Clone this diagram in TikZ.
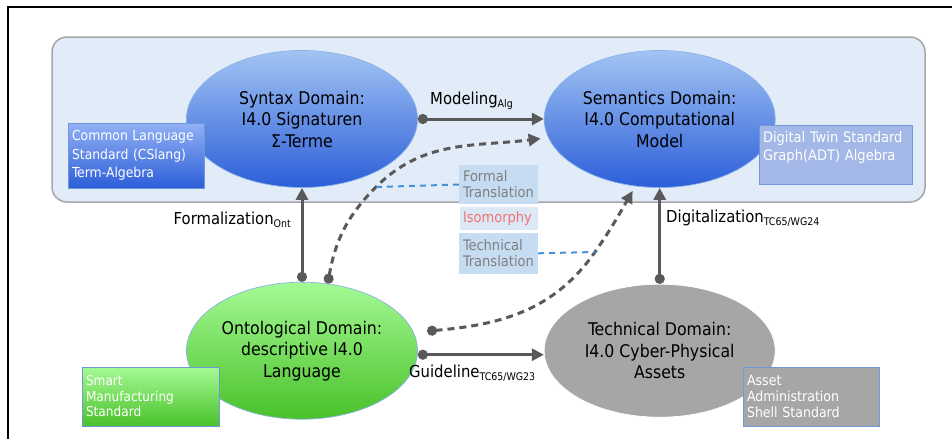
\documentclass[tikz,border=0pt]{standalone}
\usepackage{fontspec}
\setmainfont{DejaVu Sans Condensed}
\usepackage{tikz}
\usetikzlibrary{arrows.meta,positioning,shapes.geometric}

\definecolor{panelfill}{HTML}{E1ECF8}
\definecolor{panelline}{HTML}{A6A6A6}
\definecolor{blueTop}{HTML}{A2C4F3}
\definecolor{blueBot}{HTML}{2C5ED9}
\definecolor{greenTop}{HTML}{A4FA94}
\definecolor{greenBot}{HTML}{4AC12A}
\definecolor{techgrey}{HTML}{A6A6A6}
\definecolor{ellline}{HTML}{8AB2E6}
\definecolor{boxline}{HTML}{7096DB}
\definecolor{twinfill}{HTML}{A3B8E6}
\definecolor{arrowgrey}{HTML}{595959}
\definecolor{trfill}{HTML}{C6DCF2}
\definecolor{isofill}{HTML}{DCE8F5}
\definecolor{labelgrey}{HTML}{7F7F7F}
\definecolor{isored}{HTML}{F07474}
\definecolor{linkblue}{HTML}{4A8FD9}

\newcommand{\lsub}[1]{\raisebox{-2.5pt}{\fontsize{10.5}{12}\selectfont #1}}

\begin{document}
\begin{tikzpicture}[x=1pt, y=-1pt, >={Triangle[length=12pt,width=12pt]}]
\tikzstyle{domainell}=[ellipse, minimum width=231pt, minimum height=137pt, inner sep=0pt, align=center, font=\fontsize{17.5}{21.5}\selectfont, draw=ellline, line width=0.7pt]
\tikzstyle{stdbox}=[rectangle, draw=boxline, line width=0.8pt, text=white, align=left, inner xsep=4pt, inner ysep=0pt]
\tikzstyle{trbox}=[rectangle, fill=trfill, text=labelgrey, align=left, inner xsep=4pt, inner ysep=0pt, minimum width=79pt, text width=71pt, font=\fontsize{14.5}{16}\selectfont]
\tikzstyle{lbl}=[inner sep=0pt, font=\fontsize{16.5}{18}\selectfont]
\tikzstyle{link}=[{Circle[length=10pt]}->, line width=3pt, draw=arrowgrey]
\tikzstyle{dlink}=[{Circle[length=10pt]}->, line width=3pt, draw=arrowgrey, dash pattern=on 7pt off 5pt]
\tikzstyle{blink}=[line width=2pt, draw=linkblue, dash pattern=on 6pt off 5pt]

\useasboundingbox (0,0) rectangle (952,439);
\draw[line width=2pt] (8,439) -- (8,7) -- (952,7);

% panel
\draw[fill=panelfill, draw=panelline, line width=1.5pt, rounded corners=15pt] (52,37) rectangle (925,202);

% domains
\node[domainell, top color=blueTop, bottom color=blueBot] (syn) at (302,119) {Syntax Domain:\\I4.0 Signaturen\\Σ-Terme};
\node[domainell, top color=blueTop, bottom color=blueBot] (sem) [right=126pt of syn] {Semantics Domain:\\I4.0 Computational\\Model};
\node[domainell, top color=greenTop, bottom color=greenBot] (ont) [below=94pt of syn] {Ontological Domain:\\descriptive I4.0\\Language};
\node[domainell, fill=techgrey, draw=white, minimum height=133pt] (tec) [right=126pt of ont] {Technical Domain:\\I4.0 Cyber-Physical\\Assets};

% standards
\node[stdbox, top color=blueTop!90!blue, bottom color=blueBot, minimum width=136pt, text width=128pt, minimum height=65pt, font=\fontsize{13.8}{18.5}\selectfont] (cslang) at (136,155.5) {Common Language\\Standard (CSlang)\\Term-Algebra};
\node[stdbox, fill=twinfill, minimum width=153pt, text width=145pt, minimum height=59pt, font=\fontsize{14.5}{18}\selectfont] (twin) at (835.5,154.5) {Digital Twin Standard\\Graph(ADT) Algebra\\\mbox{}};
\node[stdbox, top color=greenTop, bottom color=greenBot, minimum width=137pt, text width=129pt, minimum height=59pt, font=\fontsize{13.5}{15.5}\selectfont] (smart) at (150.5,396.5) {Smart\\Manufacturing\\Standard};
\node[stdbox, fill=techgrey, minimum width=136pt, text width=128pt, minimum height=59pt, font=\fontsize{14}{16}\selectfont] (aas) at (811,396.5) {Asset\\Administration\\Shell Standard};

% translations
\node[trbox, minimum height=39pt] (formal) at (498.5,184.5) {Formal\\Translation};
\node[trbox, fill=isofill, text=isored, draw=white, minimum height=24pt] (iso) [below=2pt of formal] {Isomorphy};
\node[trbox, minimum height=41pt] (techtr) [below=2pt of iso] {Technical\\Translation};

% relations
\path
 (syn.east) edge[link] (sem.west)
 (ont.north) edge[link] (syn.south)
 (tec.north) edge[link] (sem.south)
 ([yshift=-4pt]ont.east) edge[link] ([yshift=-4pt]tec.west);

\coordinate (f1) at (376,187);
\coordinate (t1) at (595,252);
\draw[dlink] (ont.69) to[out=80, in=225] (f1) to[out=45, in=187] ([xshift=-8pt]sem.190);
\draw[dlink] ([xshift=14pt]ont.10) to[out=5, in=235] (t1) to[out=55, in=240] ([yshift=-5pt]sem.248);
\draw[blink] (formal.west) -- (f1);
\draw[blink] (techtr.east) -- (t1);

% labels
\node[lbl, anchor=west] (modlbl) at (430,101) {Modeling\lsub{Alg}};
\node[lbl, anchor=east] (formlbl) at (291,220) {Formalization\lsub{Ont}};
\node[lbl, anchor=west] (diglbl) at (666,218) {Digitalization\lsub{TC65/WG24}};
\node[lbl, anchor=west] (guidlbl) at (409,373) {Guideline\lsub{TC65/WG23}};
\end{tikzpicture}
\end{document}
